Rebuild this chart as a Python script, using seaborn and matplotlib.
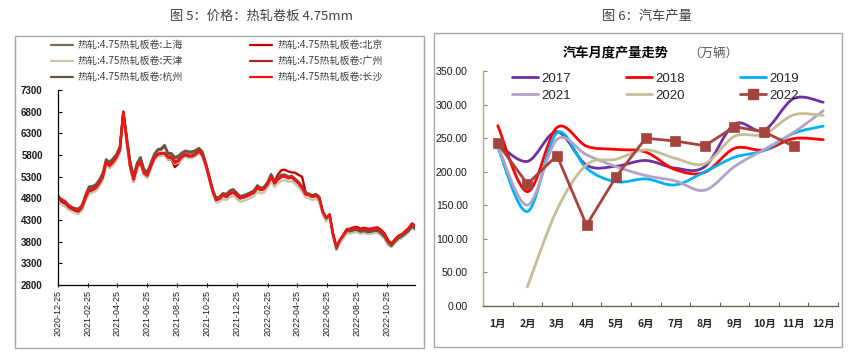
import numpy as np
import pandas as pd
import matplotlib
matplotlib.use("Agg")
import matplotlib.pyplot as plt
import seaborn as sns
from matplotlib.path import Path
from matplotlib.patches import PathPatch, Rectangle
from matplotlib.lines import Line2D

# ---------------- data: left chart (weekly samples) ----------------
start_date = "2020-12-25"
cities = ["上海", "北京", "天津", "广州", "杭州", "长沙"]

price_shanghai = [4820,4750,4720,4620,4570,4540,4520,4600,4850,5040,
 5060,5100,5200,5350,5680,5620,5700,5800,5980,6780,
 6200,5620,5300,5600,5720,5450,5380,5600,5800,5900,
 5920,5990,5820,5800,5720,5740,5820,5870,5850,5850,
 5880,5940,5860,5600,5300,4990,4790,4820,4900,4880,
 4960,4990,4910,4830,4850,4880,4920,4960,5080,5020,
 5050,5160,5340,5170,5260,5320,5330,5280,5300,5230,
 5160,5060,4910,4890,4850,4880,4820,4480,4320,4410,
 3960,3650,3820,3930,4040,4030,4060,4060,4020,4040,
 4010,4020,4040,4040,3980,3900,3770,3720,3810,3890,
 3930,3990,4060,4160,4100]
price_beijing = [4880,4720,4680,4590,4530,4500,4480,4570,4780,4960,
 4980,5020,5120,5270,5620,5540,5620,5730,5900,6780,
 6120,5520,5180,5500,5620,5360,5300,5500,5700,5780,
 5800,5820,5700,5700,5520,5600,5720,5780,5750,5760,
 5800,5870,5800,5560,5260,4960,4760,4790,4870,4830,
 4900,4930,4870,4800,4820,4850,4890,4930,5040,4990,
 5020,5130,5290,5200,5350,5450,5460,5420,5400,5390,
 5340,5300,4950,4880,4840,4860,4800,4480,4330,4420,
 3970,3620,3830,3960,4090,4100,4130,4140,4100,4120,
 4100,4100,4120,4130,4070,3990,3840,3740,3840,3930,
 3970,4040,4110,4220,4160]
price_tianjin = [4720,4650,4620,4540,4500,4460,4440,4520,4730,4900,
 4930,4970,5070,5220,5560,5490,5560,5680,5850,6700,
 6050,5480,5180,5480,5580,5330,5270,5480,5680,5760,
 5780,5800,5700,5700,5600,5620,5700,5760,5730,5730,
 5770,5840,5760,5520,5220,4920,4700,4720,4790,4760,
 4830,4860,4790,4720,4740,4770,4810,4850,4960,4910,
 4940,5050,5200,5060,5150,5200,5220,5180,5200,5130,
 5060,4960,4820,4800,4760,4790,4730,4420,4270,4350,
 3900,3620,3760,3870,3980,3990,4010,4020,3980,4000,
 3980,3980,4000,4000,3940,3860,3720,3680,3760,3840,
 3880,3950,4020,4120,4060]
price_guangzhou = [4800,4740,4700,4610,4560,4520,4500,4590,4800,4980,
 5000,5040,5140,5280,5620,5550,5630,5740,5910,6760,
 6130,5530,5230,5530,5630,5380,5320,5530,5720,5810,
 5830,5840,5740,5730,5620,5660,5750,5800,5770,5770,
 5810,5880,5800,5560,5260,4960,4760,4790,4870,4830,
 4910,4940,4870,4800,4820,4850,4890,4930,5040,4990,
 5020,5130,5290,5140,5230,5290,5300,5260,5280,5210,
 5140,5040,4890,4870,4830,4860,4800,4490,4340,4420,
 3970,3680,3830,3940,4070,4080,4100,4110,4070,4090,
 4070,4070,4100,4100,4030,3950,3800,3750,3840,3920,
 3960,4030,4100,4210,4140]
price_hangzhou = [4830,4760,4740,4650,4600,4570,4560,4650,4880,5070,
 5080,5120,5230,5380,5700,5640,5720,5820,6000,6800,
 6220,5650,5320,5620,5750,5480,5400,5620,5820,5930,
 5950,6030,5850,5840,5750,5780,5850,5900,5880,5880,
 5910,5960,5880,5620,5320,5010,4810,4840,4920,4900,
 4980,5010,4930,4850,4870,4900,4940,4980,5100,5040,
 5070,5180,5360,5190,5280,5340,5350,5300,5320,5250,
 5180,5080,4930,4910,4870,4900,4840,4500,4340,4430,
 3980,3640,3830,3940,4050,4040,4070,4070,4030,4050,
 4020,4030,4050,4050,3990,3910,3780,3700,3800,3880,
 3920,3980,4050,4150,4090]
price_changsha = [4850,4770,4740,4640,4590,4550,4530,4620,4830,5000,
 5020,5060,5160,5300,5640,5570,5650,5760,5930,6800,
 6150,5550,5250,5550,5650,5400,5340,5550,5740,5830,
 5850,5850,5760,5750,5650,5680,5770,5820,5790,5790,
 5830,5900,5820,5580,5280,4980,4770,4800,4880,4840,
 4920,4950,4880,4810,4830,4865,4900,4940,5050,5000,
 5030,5140,5300,5150,5240,5300,5320,5270,5290,5220,
 5150,5050,4900,4880,4840,4870,4810,4500,4350,4430,
 3980,3690,3840,3950,4080,4085,4110,4120,4080,4100,
 4075,4080,4105,4108,4040,3960,3810,3760,3850,3930,
 3970,4040,4110,4220,4150]

price_ticks = [2800, 3300, 3800, 4300, 4800, 5300, 5800, 6300, 6800, 7300]
date_ticks = ["2020-12-25", "2021-02-25", "2021-04-25", "2021-06-25", "2021-08-25",
              "2021-10-25", "2021-12-25", "2022-02-25", "2022-04-25", "2022-06-25",
              "2022-08-25", "2022-10-25"]

# ---------------- data: right chart ----------------
months = ["1月", "2月", "3月", "4月", "5月", "6月", "7月", "8月", "9月", "10月", "11月", "12月"]
years = ["2017", "2018", "2019", "2021", "2020", "2022"]
prod_2017 = [242.0, 215.4, 259.6, 209.8, 208.2, 216.7, 205.3, 207.6, 271.0, 261.6, 309.0, 303.5]
prod_2018 = [268.6, 170.4, 265.8, 238.0, 233.2, 229.3, 203.0, 199.2, 234.8, 232.4, 249.3, 247.7]
prod_2019 = [236.7, 140.7, 257.8, 205.2, 185.0, 189.3, 180.4, 199.9, 221.5, 231.6, 257.1, 267.9]
prod_2020 = [np.nan, 28.5, 143.3, 210.2, 218.7, 232.5, 219.9, 211.9, 252.6, 255.8, 284.7, 283.9]
prod_2021 = [238.8, 150.3, 248.1, 225.2, 207.6, 194.3, 186.3, 172.5, 207.7, 233.1, 258.5, 290.7]
prod_2022 = [242.1, 181.8, 224.1, 120.5, 192.6, 249.9, 245.7, 238.7, 267.1, 259.3, 238.0, np.nan]
prod_ticks = [0, 50, 100, 150, 200, 250, 300, 350]

# ---------------- styling ----------------
W, H = 859, 360
sns.set_theme(style="white")
plt.rcParams["font.family"] = ["Noto Sans CJK SC", "DejaVu Sans"]
plt.rcParams["axes.unicode_minus"] = False

city_colors = {"上海": "#7D6A58", "北京": "#C00000", "天津": "#CDC2AC",
               "广州": "#9E2A2E", "杭州": "#665640", "长沙": "#FF1010"}
year_colors = {"2017": "#7030A0", "2018": "#FF0000", "2019": "#00B0F0",
               "2021": "#B3A2C7", "2020": "#C4BD97", "2022": "#A5443F"}

fig = plt.figure(figsize=(W / 100, H / 100), dpi=100)

def fx(px):
    return px / W

def fy(py):
    return 1 - py / H

# outer boxes
fig.patches.append(Rectangle((fx(15), fy(348)), fx(424) - fx(15), fy(36) - fy(348),
                             transform=fig.transFigure, fill=False, edgecolor="#A6A6A6", lw=1.0))
fig.patches.append(Rectangle((fx(434), fy(347)), fx(842) - fx(434), fy(33) - fy(347),
                             transform=fig.transFigure, fill=False, edgecolor="#A6A6A6", lw=1.0))

# titles
fig.text(fx(262), fy(16), "图 5：价格：热轧卷板 4.75mm", ha="center", va="center",
         fontsize=9.5, color="#404040")
fig.text(fx(647), fy(16), "图 6：汽车产量", ha="center", va="center",
         fontsize=9.5, color="#404040")

# ---------------- left chart ----------------
dates = pd.date_range(start_date, periods=len(price_changsha), freq="7D")
series = {"上海": price_shanghai, "北京": price_beijing, "天津": price_tianjin,
          "广州": price_guangzhou, "杭州": price_hangzhou, "长沙": price_changsha}
df = pd.concat([pd.DataFrame({"date": dates, "price": series[c], "city": c}) for c in cities],
               ignore_index=True)

ax1 = fig.add_axes([fx(58), fy(285), fx(415) - fx(58), fy(90) - fy(285)])
sns.lineplot(data=df, x="date", y="price", hue="city", hue_order=cities,
             palette=city_colors, linewidth=1.7, legend=False, errorbar=None, ax=ax1)
ax1.set_ylim(2800, 7300)
ax1.set_xlim(pd.Timestamp(start_date), pd.Timestamp("2022-12-22"))
ax1.set_yticks(price_ticks)
ax1.set_yticklabels([str(v) for v in price_ticks], fontfamily="Liberation Sans",
                    fontsize=7, fontweight="bold", color="#1A1A1A")
tick_ts = pd.to_datetime(date_ticks)
ax1.set_xticks(tick_ts)
ax1.set_xticklabels(date_ticks, rotation=90, fontfamily="Liberation Sans",
                    fontsize=6.4, color="#1A1A1A")
ax1.set_xlabel("")
ax1.set_ylabel("")
for s in ["top", "right"]:
    ax1.spines[s].set_visible(False)
for s in ["left", "bottom"]:
    ax1.spines[s].set_color("black")
    ax1.spines[s].set_linewidth(0.9)
ax1.tick_params(axis="y", direction="in", length=3, width=0.8, color="black", pad=11, left=True)
ax1.tick_params(axis="x", direction="inout", length=3, width=0.8, color="black", pad=2, bottom=True)
ax1.set_facecolor("none")

leg_order = ["上海", "天津", "杭州", "北京", "广州", "长沙"]
h1 = [Line2D([], [], color=city_colors[c], lw=1.6) for c in leg_order]
l1 = ["热轧:4.75热轧板卷:" + c for c in leg_order]
fig.legend(h1, l1, loc="upper left", bbox_to_anchor=(fx(46), fy(35)), ncol=2, frameon=False,
           fontsize=7.2, handlelength=2.2, handletextpad=0.5, columnspacing=6.7,
           labelspacing=0.6, borderpad=0, labelcolor="#404040")

# ---------------- right chart ----------------
ax2 = fig.add_axes([fx(483), fy(306), fx(838) - fx(483), fy(71) - fy(306)])
xpos = np.arange(1, len(months) + 1)

def smooth_path(xs, ys):
    pts = np.column_stack([xs, ys])
    n = len(pts)
    verts = [pts[0]]
    codes = [Path.MOVETO]
    for i in range(n - 1):
        p0 = pts[i - 1] if i > 0 else pts[i]
        p1 = pts[i]
        p2 = pts[i + 1]
        p3 = pts[i + 2] if i + 2 < n else pts[i + 1]
        verts += [p1 + (p2 - p0) / 6.0, p2 - (p3 - p1) / 6.0, p2]
        codes += [Path.CURVE4] * 3
    return Path(verts, codes)

prod = {"2017": prod_2017, "2018": prod_2018, "2019": prod_2019,
        "2021": prod_2021, "2020": prod_2020}
for yr in ["2017", "2018", "2019", "2021", "2020"]:
    vals = np.array(prod[yr], dtype=float)
    ok = ~np.isnan(vals)
    patch = PathPatch(smooth_path(xpos[ok], vals[ok]), fill=False,
                      edgecolor=year_colors[yr], lw=2.0, capstyle="round", joinstyle="round")
    ax2.add_patch(patch)

df22 = pd.DataFrame({"m": xpos, "v": prod_2022}).dropna()
sns.lineplot(data=df22, x="m", y="v", color=year_colors["2022"], marker="s", markersize=7,
             markeredgecolor=year_colors["2022"], markeredgewidth=0.5, linewidth=2.0,
             errorbar=None, ax=ax2)

ax2.set_xlim(0.5, 12.5)
ax2.set_ylim(0, 350)
ax2.set_yticks(prod_ticks)
ax2.set_yticklabels([f"{v:.2f}" for v in prod_ticks], fontfamily="Liberation Sans",
                    fontsize=7.6, color="#1A1A1A")
ax2.set_xticks(xpos)
ax2.set_xticklabels(months, fontsize=7.5, fontweight="bold", color="#262626")
ax2.set_xticks(np.arange(0.5, 12.6, 1.0), minor=True)
ax2.set_xlabel("")
ax2.set_ylabel("")
for s in ["top", "right"]:
    ax2.spines[s].set_visible(False)
ax2.spines["left"].set_color("#B0A890")
ax2.spines["left"].set_linewidth(1.0)
ax2.spines["bottom"].set_color("#6B6457")
ax2.spines["bottom"].set_linewidth(1.0)
ax2.tick_params(axis="y", direction="in", length=3, width=0.8, color="#8C8470", pad=11, left=True)
ax2.tick_params(axis="x", which="major", length=0, pad=9)
ax2.tick_params(axis="x", which="minor", direction="in", length=3, width=0.8,
                color="#6B6457", bottom=True)
ax2.set_facecolor("none")

fig.text(fx(616), fy(53), "汽车月度产量走势", ha="center", va="center",
         fontsize=9.5, fontweight="bold", color="#000000")
fig.text(fx(688), fy(53), "（万辆）", ha="left", va="center", fontsize=9, color="#595959")

leg_years = ["2017", "2021", "2018", "2020", "2019", "2022"]
h2 = []
for yr in leg_years:
    if yr == "2022":
        h2.append(Line2D([], [], color=year_colors[yr], lw=2.0, marker="s", markersize=7))
    else:
        h2.append(Line2D([], [], color=year_colors[yr], lw=2.0))
fig.legend(h2, leg_years, loc="upper left", bbox_to_anchor=(fx(505), fy(66)), ncol=3,
           frameon=False, handlelength=2.0, handletextpad=0.25,
           columnspacing=4.15, labelspacing=0.35, borderpad=0,
           prop={"family": "Liberation Sans", "size": 9.5})

fig.savefig("out.png", dpi=100)
